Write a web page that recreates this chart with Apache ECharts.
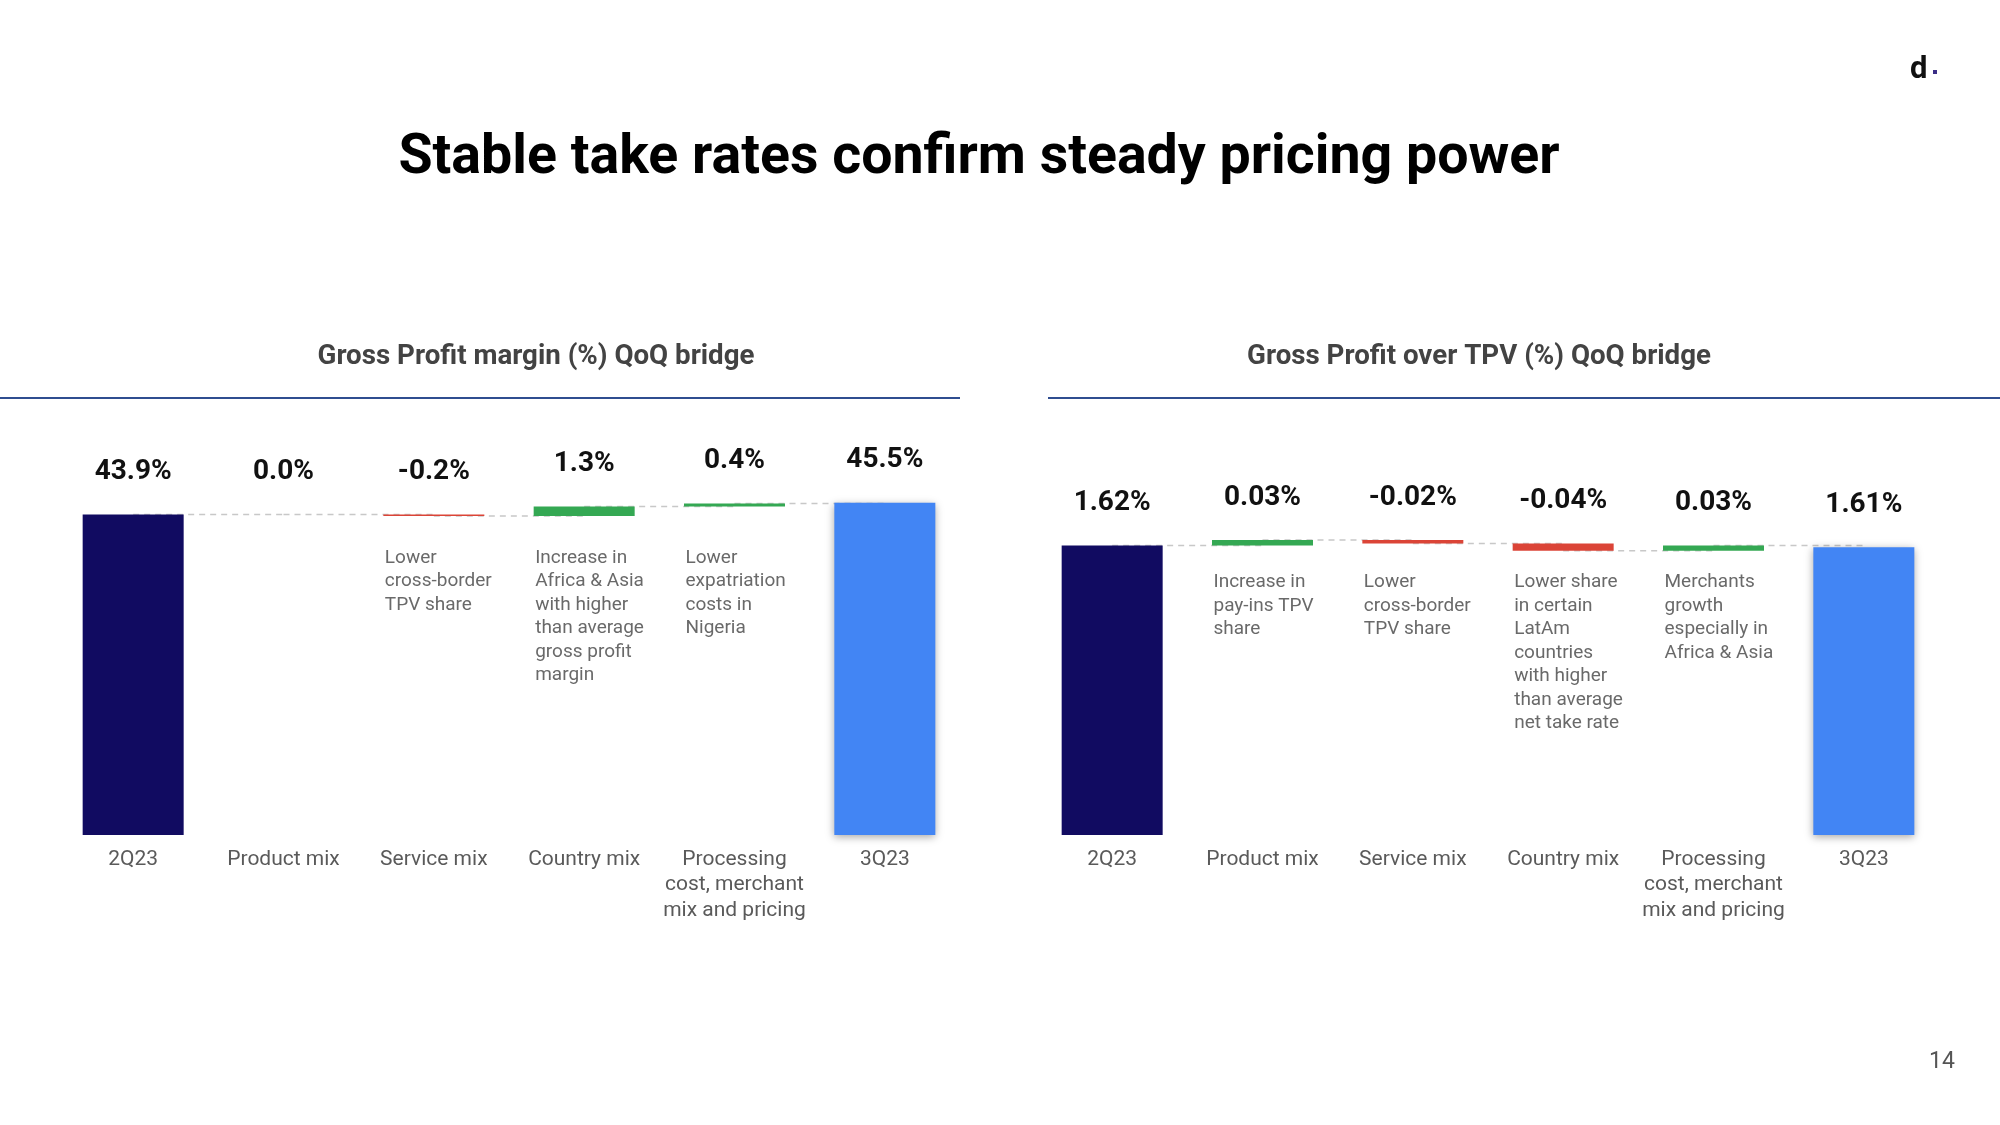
<!DOCTYPE html>
<html>
<head>
<meta charset="utf-8">
<script src="https://cdn.jsdelivr.net/npm/echarts@6/dist/echarts.min.js"></script>
<style>
html,body{margin:0;padding:0;background:#fff;}
#chart{width:2000px;height:1125px;}
</style>
</head>
<body>
<div id="chart"></div>
<script>
// ---- Data ----
const categories = ['2Q23', 'Product mix', 'Service mix', 'Country mix', 'Processing\ncost, merchant\nmix and pricing', '3Q23'];

// Gross Profit margin (%) QoQ bridge
const marginStart = 43.9;
const marginDeltas = [0.0, -0.2, 1.3, 0.4];
const marginEnd = 45.5;
const marginNotes = ['', 'Lower\ncross-border\nTPV share', 'Increase in\nAfrica & Asia\nwith higher\nthan average\ngross profit\nmargin', 'Lower\nexpatriation\ncosts in\nNigeria'];

// Gross Profit over TPV (%) QoQ bridge
const tpvStart = 1.62;
const tpvDeltas = [0.03, -0.02, -0.04, 0.03];
const tpvEnd = 1.61;
const tpvNotes = ['Increase in\npay-ins TPV\nshare', 'Lower\ncross-border\nTPV share', 'Lower share\nin certain\nLatAm\ncountries\nwith higher\nthan average\nnet take rate', 'Merchants\ngrowth\nespecially in\nAfrica & Asia'];

const COL_START = '#110b61';
const COL_END = '#4285f4';
const COL_UP = '#34a853';
const COL_DOWN = '#db4437';

function buildBridge(start, deltas, end, decimals, notes, idx, noteOffsetY) {
  const base = [0];
  const vals = [{value: start, itemStyle: {color: COL_START}}];
  const labels = [start];
  const levels = [start];
  let cur = start;
  deltas.forEach(d => {
    const next = +(cur + d).toFixed(6);
    base.push(Math.min(cur, next));
    vals.push({value: Math.abs(d), itemStyle: {color: d >= 0 ? COL_UP : COL_DOWN}});
    labels.push(d);
    levels.push(next);
    cur = next;
  });
  base.push(0);
  vals.push({value: end, itemStyle: {color: COL_END, shadowColor: 'rgba(0,0,0,0.35)', shadowBlur: 8, shadowOffsetY: 2}});
  labels.push(end);

  const connectors = [];
  for (let i = 0; i < levels.length; i++) connectors.push([i, levels[i]]);

  const noteData = [];
  notes.forEach((n, k) => { if (n) noteData.push({value: [k + 1, start], note: n}); });

  return [
    {
      type: 'custom', xAxisIndex: idx, yAxisIndex: idx, z: 1, silent: true,
      data: connectors,
      renderItem: function (params, api) {
        const i = api.value(0), y = api.value(1);
        const p0 = api.coord([i, y]);
        const p1 = api.coord([i + 1, y]);
        return {
          type: 'line',
          shape: {x1: p0[0], y1: p0[1], x2: p1[0], y2: p1[1]},
          style: {stroke: '#c8c8c8', lineWidth: 1.5, lineDash: [6, 5]}
        };
      }
    },
    {
      type: 'bar', xAxisIndex: idx, yAxisIndex: idx, stack: 'b' + idx, z: 2, silent: true,
      barWidth: 101,
      itemStyle: {color: 'rgba(0,0,0,0)'},
      data: base
    },
    {
      type: 'bar', xAxisIndex: idx, yAxisIndex: idx, stack: 'b' + idx, z: 3,
      barWidth: 101,
      data: vals,
      label: {
        show: true, position: 'top', distance: 28.5,
        fontFamily: 'Roboto', fontWeight: 'bold', fontSize: 28, color: '#111',
        formatter: p => labels[p.dataIndex].toFixed(decimals) + '%'
      }
    },
    {
      type: 'scatter', xAxisIndex: idx, yAxisIndex: idx, symbolSize: 0, z: 4, silent: true,
      data: noteData,
      label: {
        show: true, position: [-49, noteOffsetY], align: 'left', verticalAlign: 'top',
        fontFamily: 'Roboto', fontSize: 19, lineHeight: 23.5, color: '#444',
        formatter: p => p.data.note
      }
    }
  ];
}

const chart = echarts.init(document.getElementById('chart'), null, {renderer: 'canvas'});

const xAxisCommon = {
  type: 'category', data: categories,
  axisLine: {show: false}, axisTick: {show: false},
  axisLabel: {margin: 11.5, fontFamily: 'Roboto', fontSize: 21, lineHeight: 25.5, color: '#5a5a5a', interval: 0}
};
const yAxisCommon = {type: 'value', min: 0, show: false, splitLine: {show: false}};

chart.setOption({
  animation: false,
  backgroundColor: '#ffffff',
  grid: [
    {left: 58, width: 902, top: 397, bottom: 290},
    {left: 1037, width: 902, top: 397, bottom: 290}
  ],
  xAxis: [
    Object.assign({gridIndex: 0}, xAxisCommon),
    Object.assign({gridIndex: 1}, xAxisCommon)
  ],
  yAxis: [
    Object.assign({gridIndex: 0, max: 60}, yAxisCommon),
    Object.assign({gridIndex: 1, max: 2.45}, yAxisCommon)
  ],
  graphic: [
    {type: 'text', x: 979, y: 159, style: {text: 'Stable take rates confirm steady pricing power', fontFamily: 'Roboto', fontWeight: 'bold', fontSize: 55.5, fill: '#000', align: 'center', verticalAlign: 'middle'}},
    {type: 'text', x: 536, y: 357.5, style: {text: 'Gross Profit margin (%) QoQ bridge', fontFamily: 'Roboto', fontWeight: 'bold', fontSize: 27.7, fill: '#434343', align: 'center', verticalAlign: 'middle'}},
    {type: 'text', x: 1479, y: 357.5, style: {text: 'Gross Profit over TPV (%) QoQ bridge', fontFamily: 'Roboto', fontWeight: 'bold', fontSize: 27.7, fill: '#434343', align: 'center', verticalAlign: 'middle'}},
    {type: 'rect', shape: {x: 0, y: 397, width: 960, height: 2}, style: {fill: '#2f4d90'}},
    {type: 'rect', shape: {x: 1048, y: 397, width: 952, height: 2}, style: {fill: '#2f4d90'}},
    {type: 'text', x: 1910, y: 70, style: {text: 'd', fontFamily: 'Roboto', fontWeight: 'bold', fontSize: 31, fill: '#111', verticalAlign: 'middle'}},
    {type: 'rect', shape: {x: 1933, y: 70, width: 4, height: 4}, style: {fill: '#3a2d86'}},
    {type: 'text', x: 1942, y: 1062, style: {text: '14', fontFamily: 'Roboto', fontSize: 23, fill: '#555', align: 'center', verticalAlign: 'middle'}}
  ],
  series: [].concat(
    buildBridge(marginStart, marginDeltas, marginEnd, 1, marginNotes, 0, 31.5),
    buildBridge(tpvStart, tpvDeltas, tpvEnd, 2, tpvNotes, 1, 25.5)
  )
});
</script>
</body>
</html>
